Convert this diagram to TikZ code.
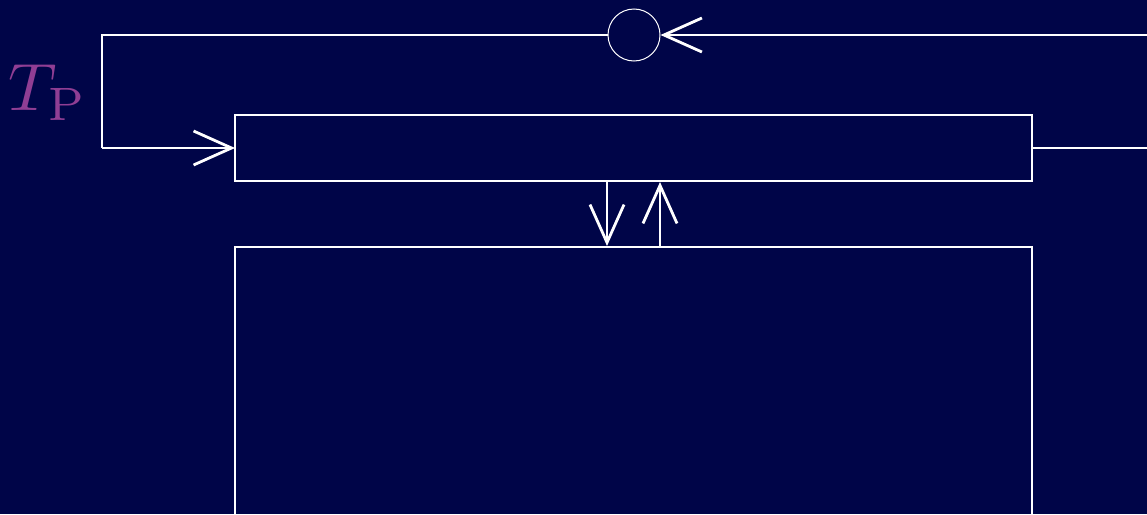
\documentclass[tikz,border=0pt]{standalone}
\usetikzlibrary{arrows.meta}
\definecolor{bg}{HTML}{000548}
\definecolor{lbl}{HTML}{903E94}
\begin{document}
\begin{tikzpicture}[x=1pt,y=-1pt,
  wire/.style={draw=white,line width=2.8pt},
  thin wire/.style={draw=white,line width=1.7pt},
  barb/.style={-{Straight Barb[length=38pt,width=34pt,line width=2.8pt]}},
  blk/.style={draw=white,line width=2.8pt,fill=none},
]
\fill[bg] (0,0) rectangle (1147,514);
\useasboundingbox (0,0) rectangle (1147,514);
\begin{scope}
\clip (0,0) rectangle (1147,514);
% blocks
\draw[blk] (235,115) rectangle (1032,181);
\coordinate (b1w) at (235,148);
\coordinate (b1e) at (1032,148);
\draw[blk] (235,247) rectangle (1032,520);
% circle
\node[draw=white,line width=1pt,circle,minimum size=52pt,inner sep=0pt] (c) at (634,35) {};
\coordinate (rin) at (1150,35);
\coordinate (corner1) at (102,35);
\coordinate (corner2) at (102,148);
\coordinate (rout) at (1150,148);
\draw[wire,barb] (rin) -- (c.east);
\draw[wire] (c.west) -- (corner1) -- (corner2);
\draw[wire,barb] (corner2) -- (b1w);
\draw[wire] (b1e) -- (rout);
% vertical arrows
\coordinate (d1) at (607,181);
\coordinate (d2) at (607,246);
\coordinate (u1) at (660,247);
\coordinate (u2) at (660,182);
\draw[thin wire,barb] (d1) -- (d2);
\draw[wire,barb] (u1) -- (u2);
\end{scope}
\node[text=lbl,scale=6.7,inner sep=0pt] (tp) at (48,93) {$T_{\mathrm{P}}$};
\end{tikzpicture}
\end{document}
